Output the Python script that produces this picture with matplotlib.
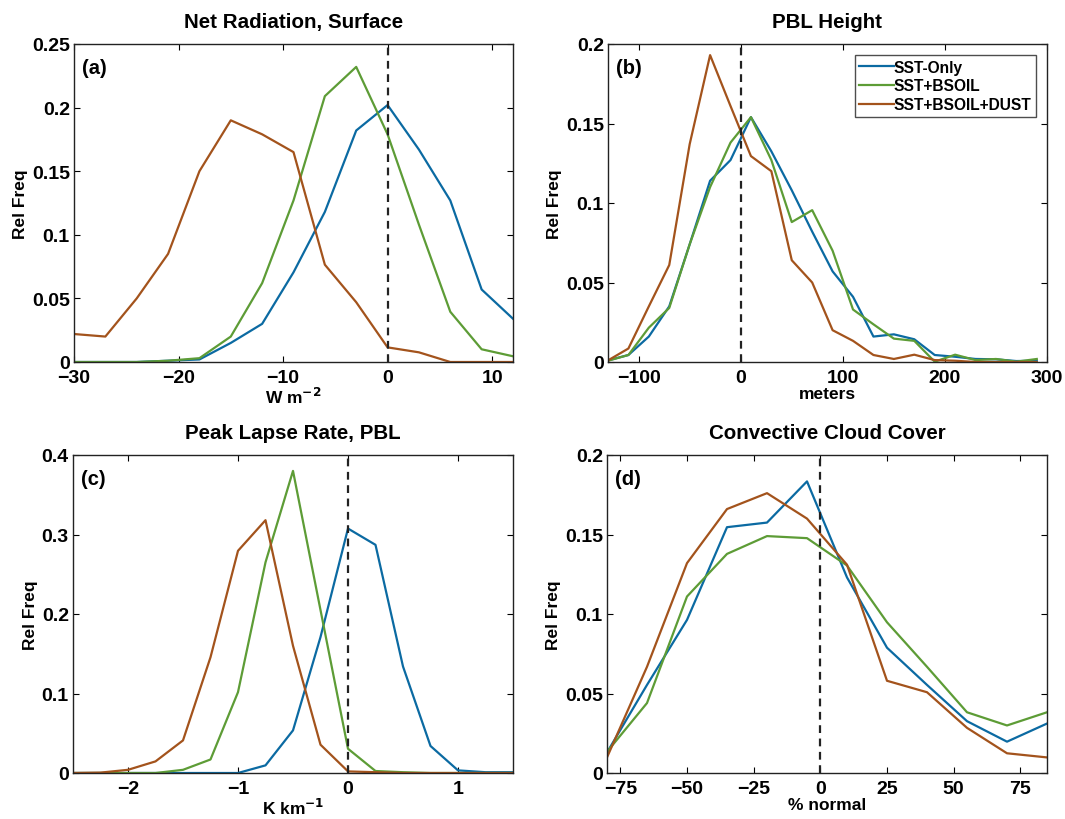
import numpy as np
import matplotlib
matplotlib.use('Agg')
import matplotlib.pyplot as plt

plt.rcParams['font.family'] = ['Liberation Sans', 'DejaVu Sans']
plt.rcParams['font.weight'] = 'bold'
plt.rcParams['axes.labelweight'] = 'bold'
plt.rcParams['axes.titleweight'] = 'bold'

names = ['SST-Only', 'SST+BSOIL', 'SST+BSOIL+DUST']
colors = ['#0b6aa2', '#5d9c36', '#a3531c']

# (a) Net Radiation, Surface
x_a = np.arange(-30, 13, 3)
a_sst = [0, 0, 0, 0.001, 0.002, 0.015, 0.030, 0.0705, 0.118, 0.182, 0.202, 0.167, 0.127, 0.057, 0.034]
a_bsoil = [0, 0, 0, 0.001, 0.003, 0.020, 0.062, 0.127, 0.209, 0.232, 0.179, 0.108, 0.0395, 0.010, 0.0045]
a_dust = [0.022, 0.020, 0.050, 0.085, 0.150, 0.190, 0.179, 0.165, 0.0765, 0.047, 0.0115, 0.0076, 0, 0, 0]

# (b) PBL Height
x_b = np.arange(-130, 291, 20)
b_sst = [0.001, 0.0044, 0.016, 0.035, 0.074, 0.114, 0.127, 0.154, 0.1325, 0.108, 0.082,
         0.057, 0.041, 0.016, 0.0174, 0.0143, 0.0044, 0.0033, 0.0019, 0.0017, 0.0006, 0.0008]
b_bsoil = [0.0008, 0.0044, 0.0216, 0.034, 0.074, 0.110, 0.138, 0.154, 0.127, 0.088, 0.0955,
           0.070, 0.033, 0.0237, 0.0147, 0.0133, 0.0002, 0.0046, 0.0012, 0.0019, 0.0002, 0.0019]
b_dust = [0.001, 0.0085, 0.035, 0.061, 0.137, 0.193, 0.161, 0.1295, 0.120, 0.064, 0.050,
          0.020, 0.0133, 0.0044, 0.0019, 0.0046, 0.0012, 0.0008, 0, 0, 0, 0]

# (c) Peak Lapse Rate, PBL
x_c = np.arange(-2.5, 1.51, 0.25)
c_sst = [0, 0, 0, 0, 0, 0, 0, 0.0096, 0.0536, 0.171, 0.3075, 0.287, 0.134, 0.034, 0.0033, 0.001, 0.001]
c_bsoil = [0, 0, 0, 0, 0.004, 0.017, 0.1017, 0.265, 0.380, 0.205, 0.0305, 0.0025, 0.001, 0, 0, 0, 0]
c_dust = [0, 0.0005, 0.004, 0.0146, 0.041, 0.1456, 0.2795, 0.318, 0.160, 0.0356, 0.002, 0.001, 0, 0, 0, 0, 0]

# (d) Convective Cloud Cover
x_d = np.arange(-80, 86, 15)
d_sst = [0.0129, 0.0554, 0.0963, 0.1546, 0.1575, 0.1834, 0.123, 0.0788, 0.0554, 0.0326, 0.0197, 0.0311]
d_bsoil = [0.0133, 0.044, 0.111, 0.1378, 0.149, 0.1477, 0.1305, 0.0948, 0.0668, 0.0382, 0.0299, 0.0382]
d_dust = [0.0098, 0.0668, 0.132, 0.166, 0.176, 0.160, 0.131, 0.058, 0.0508, 0.0284, 0.0124, 0.0098]

panels = [
    ('Net Radiation, Surface', '(a)', 'W m$^{\\mathbf{-2}}$', x_a, [a_sst, a_bsoil, a_dust],
     (-30, 12), [-30, -20, -10, 0, 10], (0, 0.25), [0, 0.05, 0.1, 0.15, 0.2, 0.25]),
    ('PBL Height', '(b)', 'meters', x_b, [b_sst, b_bsoil, b_dust],
     (-130, 300), [-100, 0, 100, 200, 300], (0, 0.2), [0, 0.05, 0.1, 0.15, 0.2]),
    ('Peak Lapse Rate, PBL', '(c)', 'K km$^{\\mathbf{-1}}$', x_c, [c_sst, c_bsoil, c_dust],
     (-2.5, 1.5), [-2, -1, 0, 1], (0, 0.4), [0, 0.1, 0.2, 0.3, 0.4]),
    ('Convective Cloud Cover', '(d)', '% normal', x_d, [d_sst, d_bsoil, d_dust],
     (-80, 85), [-75, -50, -25, 0, 25, 50, 75], (0, 0.2), [0, 0.05, 0.1, 0.15, 0.2]),
]

W, H = 1065, 820
boxes = [(74, 45, 513, 363), (608, 45, 1047, 363), (73, 456, 513, 774), (607, 456, 1047, 774)]

fig = plt.figure(figsize=(W / 100, H / 100), dpi=100)
for (title, tag, xlab, x, series, xlim, xt, ylim, yt), (l, t, r, b) in zip(panels, boxes):
    ax = fig.add_axes([l / W, 1 - b / H, (r - l) / W, (b - t) / H])
    for s, c, n in zip(series, colors, names):
        ax.plot(x, s, color=c, lw=1.6, label=n)
    ax.axvline(0, color='#222222', ls=(0, (3.5, 2.5)), lw=1.6, zorder=5)
    ax.set_xlim(*xlim)
    ax.set_ylim(*ylim)
    ax.set_xticks(xt)
    ax.set_yticks(yt)
    ax.set_yticklabels(['0' if v == 0 else ('%g' % v) for v in yt])
    ax.tick_params(direction='in', length=4, width=0.8, top=True, right=True,
                   labelsize=14, pad=3)
    ax.tick_params(axis='x', pad=5)
    for sp in ax.spines.values():
        sp.set_linewidth(1.0)
        sp.set_color('#222222')
    ax.set_title(title, fontsize=14.8, pad=12)
    ax.set_xlabel(xlab, fontsize=12.5, labelpad=0)
    ax.set_ylabel('Rel Freq', fontsize=12.5, labelpad=3)
    ax.text(0.018, 0.955, tag, transform=ax.transAxes, fontsize=14.5, va='top', ha='left')
    if tag == '(b)':
        leg = ax.legend(loc='upper right', fontsize=11.2, frameon=True, fancybox=False,
                        handlelength=2.2, handletextpad=0.0, borderpad=0.3,
                        labelspacing=0.25, borderaxespad=0.7)
        leg.get_frame().set_edgecolor('#222222')
        leg.get_frame().set_linewidth(1.0)

fig.savefig('out.png', dpi=100)
